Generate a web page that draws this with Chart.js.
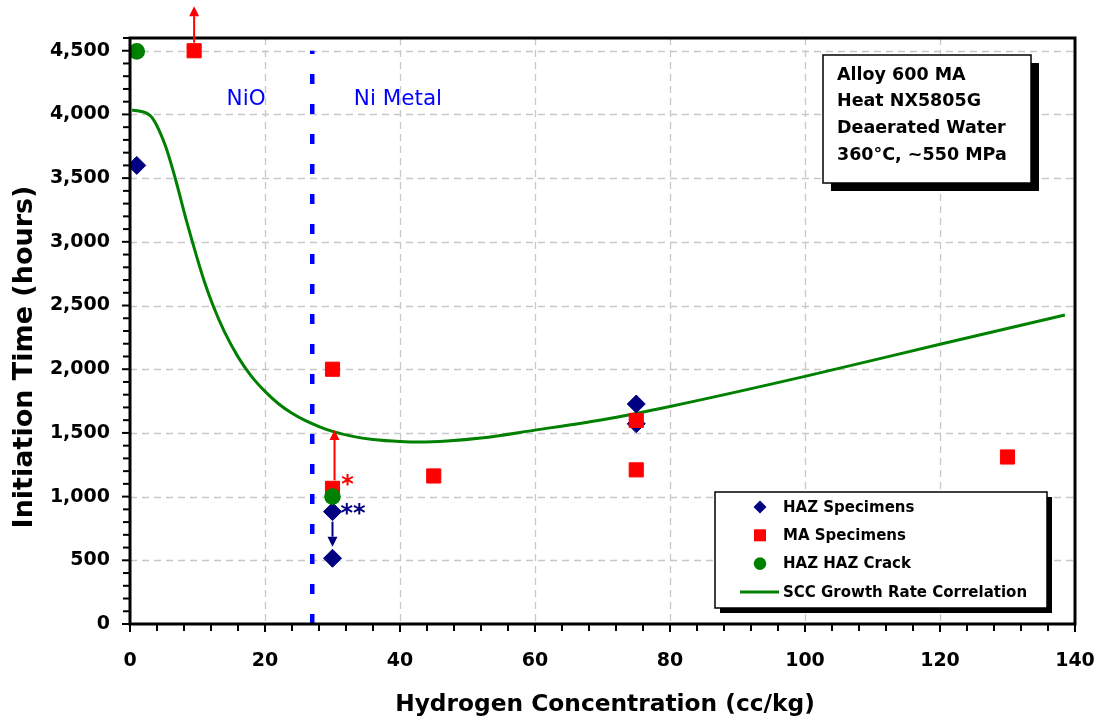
<!DOCTYPE html>
<html>
<head>
<meta charset="utf-8">
<script src="https://cdn.jsdelivr.net/npm/chart.js@4.4.1/dist/chart.umd.min.js"></script>
<style>
  html, body { margin: 0; padding: 0; background: #ffffff; }
  #wrap { width: 1098px; height: 725px; position: relative; }
</style>
</head>
<body>
<div id="wrap"><canvas id="chart"></canvas></div>
<script>
// Axis ticks
const xTicks = [0, 20, 40, 60, 80, 100, 120, 140];
const yTicks = [0, 500, 1000, 1500, 2000, 2500, 3000, 3500, 4000, 4500];

// HAZ specimens (hydrogen cc/kg, initiation time h)
const hazX = [1, 30, 30, 75, 75];
const hazY = [3600, 882, 516, 1727, 1572];

// MA specimens
const maX = [9.5, 30, 30, 45, 75, 75, 130];
const maY = [4500, 2000, 1065, 1162, 1598, 1210, 1311];

// HAZ crack
const crackX = [1, 30];
const crackY = [4495, 1000];

// SCC growth rate correlation curve
const curveX = [0.3, 3, 5.2, 6.7, 8.4, 9.9, 11, 12.3, 14, 16, 18, 20, 22, 24, 26, 28, 30, 33, 36, 40, 43, 47, 52, 60, 70, 80, 100, 120, 138.5];
const curveY = [4035, 3990, 3760, 3499, 3158, 2880, 2690, 2500, 2293, 2097, 1944, 1826, 1729, 1654, 1596, 1550, 1512, 1473, 1449, 1433, 1429, 1437, 1460, 1522, 1604, 1708, 1944, 2196, 2426];

// NiO / Ni metal boundary
const boundaryX = 27;
const boundaryY = [0, 4500];

// Arrows (x, start value, end value)
const arrowX = [9.5, 30.3, 30];
const arrowFrom = [4500, 1065, 882];
const arrowTo = [4850, 1523, 607];

// Boxed notes
const noteLines = ['Alloy 600 MA', 'Heat NX5805G', 'Deaerated Water', '360°C, ~550 MPa'];
const regionLabels = ['NiO', 'Ni Metal'];
const regionX = [17.2, 39.7];
const regionY = 4120;

const pts = (xs, ys) => xs.map((x, i) => ({ x: x, y: ys[i] }));

const NAVY = '#000080', RED = '#ff0000', GREEN = '#008000', BLUE = '#0000ff';
const FONT = "'DejaVu Sans', 'Liberation Sans', Arial, sans-serif";

function arrow(ctx, x, y0, y1, color) {
  const dir = y1 < y0 ? -1 : 1;
  const head = 10, half = 5;
  ctx.save();
  ctx.strokeStyle = color; ctx.fillStyle = color; ctx.lineWidth = 2;
  ctx.beginPath(); ctx.moveTo(x, y0); ctx.lineTo(x, y1 - dir * head); ctx.stroke();
  ctx.beginPath();
  ctx.moveTo(x, y1);
  ctx.lineTo(x - half, y1 - dir * head);
  ctx.lineTo(x + half, y1 - dir * head);
  ctx.closePath(); ctx.fill();
  ctx.restore();
}

const decor = {
  id: 'decor',
  beforeDatasetsDraw(chart) {
    const { ctx, chartArea: a, scales: { x, y } } = chart;
    ctx.save();
    ctx.strokeStyle = '#c8c8c8';
    ctx.lineWidth = 1.3;
    ctx.setLineDash([7, 5]);
    xTicks.forEach(v => {
      if (v <= 0 || v >= 140) return;
      const px = Math.round(x.getPixelForValue(v)) + 0.5;
      ctx.beginPath(); ctx.moveTo(px, a.top); ctx.lineTo(px, a.bottom); ctx.stroke();
    });
    yTicks.forEach(v => {
      if (v <= 0) return;
      const py = Math.round(y.getPixelForValue(v)) + 0.5;
      ctx.beginPath(); ctx.moveTo(a.left, py); ctx.lineTo(a.right, py); ctx.stroke();
    });
    ctx.restore();
  },
  afterDatasetsDraw(chart) {
    const { ctx, chartArea: a, scales: { x, y } } = chart;
    ctx.save();
    // frame
    ctx.strokeStyle = '#000'; ctx.lineWidth = 3;
    ctx.strokeRect(a.left, a.top, a.right - a.left, a.bottom - a.top);
    // tick marks
    ctx.lineWidth = 2;
    for (let v = 0; v <= 4600; v += 100) {
      const py = y.getPixelForValue(v);
      const len = v % 500 === 0 ? 8 : 7;
      ctx.beginPath(); ctx.moveTo(a.left - len, py); ctx.lineTo(a.left, py); ctx.stroke();
    }
    for (let v = 0; v <= 140; v += 4) {
      const px = x.getPixelForValue(v);
      const len = v % 20 === 0 ? 8 : 7;
      ctx.beginPath(); ctx.moveTo(px, a.bottom); ctx.lineTo(px, a.bottom + len); ctx.stroke();
    }
    ctx.restore();

    // arrows
    const colors = [RED, RED, NAVY];
    const gaps = [8, 8, 10];
    arrowX.forEach((v, i) => {
      const px = x.getPixelForValue(v);
      const p0 = y.getPixelForValue(arrowFrom[i]);
      const p1 = y.getPixelForValue(arrowTo[i]);
      const dir = p1 < p0 ? -1 : 1;
      arrow(ctx, px, p0 + dir * gaps[i], p1, colors[i]);
    });

    // asterisks
    ctx.save();
    ctx.font = 'bold 24px ' + FONT;
    ctx.textAlign = 'center';
    ctx.textBaseline = 'alphabetic';
    ctx.fillStyle = RED;
    ctx.fillText('*', x.getPixelForValue(maX[2]) + 15, y.getPixelForValue(maY[2]) + 4);
    ctx.fillStyle = NAVY;
    ctx.fillText('**', x.getPixelForValue(hazX[1]) + 20.5, y.getPixelForValue(hazY[1]) + 9);
    ctx.restore();
  },
  afterDraw(chart) {
    const { ctx, scales: { x, y } } = chart;
    ctx.save();
    // region labels
    ctx.font = '21.5px ' + FONT;
    ctx.fillStyle = BLUE;
    ctx.textAlign = 'center';
    ctx.textBaseline = 'middle';
    regionLabels.forEach((t, i) => ctx.fillText(t, x.getPixelForValue(regionX[i]), y.getPixelForValue(regionY)));

    // axis titles
    ctx.fillStyle = '#000';
    ctx.font = 'bold 23.3px ' + FONT;
    ctx.fillText('Hydrogen Concentration (cc/kg)', 605, 705);
    ctx.save();
    ctx.translate(25, 357);
    ctx.rotate(-Math.PI / 2);
    ctx.font = 'bold 27px ' + FONT;
    ctx.fillText('Initiation Time (hours)', 0, 0);
    ctx.restore();

    // note box
    const nb = { x: 823, y: 55, w: 208, h: 128 };
    ctx.fillStyle = '#000';
    ctx.fillRect(nb.x + 8, nb.y + 8, nb.w, nb.h);
    ctx.fillStyle = '#fff';
    ctx.fillRect(nb.x, nb.y, nb.w, nb.h);
    ctx.strokeStyle = '#000'; ctx.lineWidth = 1.5;
    ctx.strokeRect(nb.x, nb.y, nb.w, nb.h);
    ctx.fillStyle = '#000';
    ctx.font = 'bold 17.5px ' + FONT;
    ctx.textAlign = 'left';
    noteLines.forEach((t, i) => ctx.fillText(t, nb.x + 14, nb.y + 20 + i * 26.7));

    // legend
    const lb = { x: 715, y: 492, w: 332, h: 116 };
    ctx.fillStyle = '#000';
    ctx.fillRect(lb.x + 5, lb.y + 5, lb.w, lb.h);
    ctx.fillStyle = '#fff';
    ctx.fillRect(lb.x, lb.y, lb.w, lb.h);
    ctx.strokeRect(lb.x, lb.y, lb.w, lb.h);
    const ds = chart.data.datasets;
    const rows = [0, 1, 2, 3];
    ctx.font = 'bold 15px ' + FONT;
    rows.forEach(i => {
      const d = ds[i];
      const cy = lb.y + 15 + i * 28.3;
      const cx = 760;
      ctx.fillStyle = d.backgroundColor;
      ctx.strokeStyle = d.borderColor;
      if (d.pointStyle === 'rectRot') {
        ctx.beginPath();
        ctx.moveTo(cx - 6.5, cy); ctx.lineTo(cx, cy - 6.5); ctx.lineTo(cx + 6.5, cy); ctx.lineTo(cx, cy + 6.5);
        ctx.closePath(); ctx.fill();
      } else if (d.pointStyle === 'rect') {
        ctx.fillRect(cx - 6, cy - 6, 12, 12);
      } else if (d.pointStyle === 'circle') {
        ctx.beginPath(); ctx.arc(cx, cy, 6.3, 0, Math.PI * 2); ctx.fill();
      } else {
        ctx.lineWidth = 3;
        ctx.beginPath(); ctx.moveTo(740, cy); ctx.lineTo(779, cy); ctx.stroke();
      }
      ctx.fillStyle = '#000';
      ctx.fillText(d.label, 783, cy + 1);
    });
    ctx.restore();
  }
};

new Chart(document.getElementById('chart'), {
  type: 'scatter',
  data: {
    datasets: [
      { label: 'HAZ Specimens', data: pts(hazX, hazY), pointStyle: 'rectRot', pointRadius: 9, pointHoverRadius: 9,
        backgroundColor: NAVY, borderColor: NAVY, borderWidth: 1, order: 3 },
      { label: 'MA Specimens', data: pts(maX, maY), pointStyle: 'rect', pointRadius: 10, pointHoverRadius: 10,
        backgroundColor: RED, borderColor: RED, borderWidth: 1, order: 2 },
      { label: 'HAZ HAZ Crack', data: pts(crackX, crackY), pointStyle: 'circle', pointRadius: 8.3, pointHoverRadius: 8.3,
        backgroundColor: GREEN, borderColor: GREEN, borderWidth: 0, order: 1 },
      { label: 'SCC Growth Rate Correlation', data: pts(curveX, curveY), showLine: true, pointRadius: 0,
        borderColor: GREEN, backgroundColor: GREEN, borderWidth: 3, cubicInterpolationMode: 'monotone', order: 4 },
      { label: 'boundary', data: boundaryY.map(v => ({ x: boundaryX, y: v })), showLine: true, pointRadius: 0,
        borderColor: BLUE, backgroundColor: BLUE, borderWidth: 4.5, borderDash: [10, 20], order: 5 }
    ]
  },
  options: {
    responsive: true,
    maintainAspectRatio: false,
    animation: false,
    events: [],
    layout: { padding: { top: 38, right: 23, left: 0, bottom: 0 } },
    plugins: { legend: { display: false }, tooltip: { enabled: false } },
    scales: {
      x: {
        type: 'linear', min: 0, max: 140,
        afterBuildTicks: s => { s.ticks = xTicks.map(v => ({ value: v })); },
        afterFit: s => { s.height = 101; s.paddingLeft = 0; s.paddingRight = 0; },
        grid: { display: false, drawTicks: false },
        border: { display: false },
        ticks: { color: '#000', padding: 26, maxRotation: 0, font: { family: FONT, weight: 'bold', size: 19 } }
      },
      y: {
        type: 'linear', min: 0, max: 4600,
        afterBuildTicks: s => { s.ticks = yTicks.map(v => ({ value: v })); },
        afterFit: s => { s.width = 130; s.paddingTop = 0; s.paddingBottom = 0; },
        grid: { display: false, drawTicks: false },
        border: { display: false },
        ticks: { color: '#000', padding: 20, font: { family: FONT, weight: 'bold', size: 19 },
          callback: v => v.toLocaleString('en-US') }
      }
    }
  },
  plugins: [decor]
});
</script>
</body>
</html>
